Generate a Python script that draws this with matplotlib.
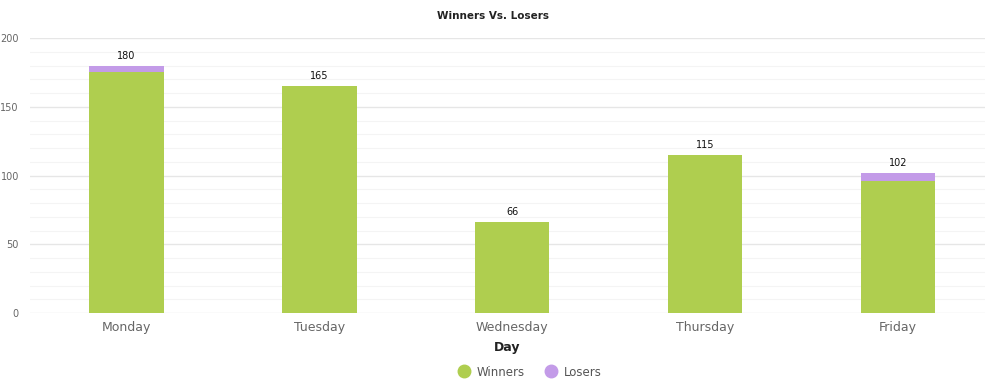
import matplotlib
matplotlib.use("Agg")
import matplotlib.pyplot as plt
from matplotlib.lines import Line2D
import numpy as np

days = ["Monday", "Tuesday", "Wednesday", "Thursday", "Friday"]
winners = [175, 165, 66, 115, 96]
losers = [5, 0, 0, 0, 6]
totals = [180, 165, 66, 115, 102]
y_ticks = [0, 50, 100, 150, 200]

green = "#afce4f"
purple = "#c39be8"

W, H = 987, 388
fig = plt.figure(figsize=(W / 100, H / 100), dpi=100)
ax = fig.add_axes([30 / W, 75 / H, (985 - 30) / W, 275 / H])

x = np.arange(len(days))
bw = 0.385
ax.bar(x, winners, width=bw, color=green, zorder=3)
ax.bar(x, losers, width=bw, bottom=winners, color=purple, zorder=3)

for xi, t in zip(x, totals):
    ax.annotate(str(t), (xi, t), xytext=(0, 3.5), textcoords="offset points",
                ha="center", va="bottom", fontsize=7, color="#111111")

ax.set_xlim(-0.5, 4.45)
ax.set_ylim(0, 200)
ax.set_yticks(y_ticks)
ax.set_yticks(np.arange(0, 201, 10), minor=True)
ax.grid(axis="y", which="major", color="#e6e6e6", linewidth=1, zorder=0)
ax.grid(axis="y", which="minor", color="#f4f4f4", linewidth=0.8, zorder=0)
ax.set_xticks(x)
ax.set_xticklabels(days, fontsize=9, color="#666666")
ax.tick_params(axis="x", length=0, pad=6)
ax.tick_params(axis="y", which="both", length=0, labelsize=7, labelcolor="#666666", pad=8)
for s in ax.spines.values():
    s.set_visible(False)

ax.set_xlabel("Day", fontsize=9, fontweight="bold", color="#222222", labelpad=5)
fig.text(0.5, 1 - 16 / H, "Winners Vs. Losers", ha="center", va="center",
         fontsize=7.5, fontweight="bold", color="#222222")

handles = [Line2D([], [], marker="o", linestyle="none", markersize=9,
                  markerfacecolor=green, markeredgecolor=green, label="Winners"),
           Line2D([], [], marker="o", linestyle="none", markersize=9,
                  markerfacecolor=purple, markeredgecolor=purple, label="Losers")]
leg = fig.legend(handles=handles, loc="center", bbox_to_anchor=(529 / W, 1 - 372 / H),
                 ncol=2, frameon=False, fontsize=8.5, handletextpad=0.5,
                 columnspacing=1.6, handlelength=1.2)
for t in leg.get_texts():
    t.set_color("#555555")

fig.savefig("out.png", dpi=100)
